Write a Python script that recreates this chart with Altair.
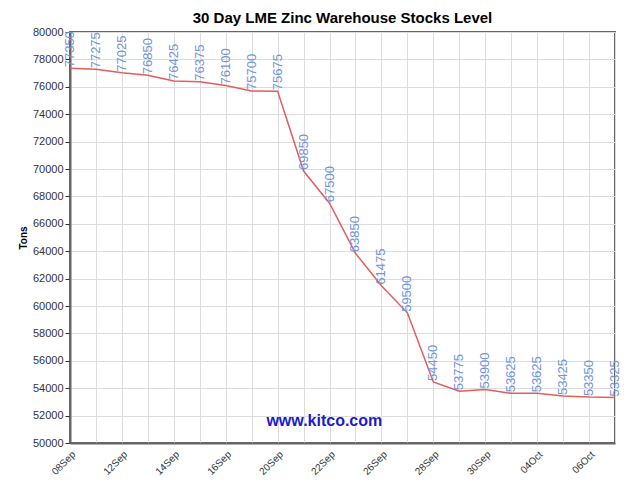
import altair as alt
import pandas as pd

dates = ["08Sep", "09Sep", "12Sep", "13Sep", "14Sep", "15Sep", "16Sep", "19Sep",
         "20Sep", "21Sep", "22Sep", "23Sep", "26Sep", "27Sep", "28Sep", "29Sep",
         "30Sep", "03Oct", "04Oct", "05Oct", "06Oct", "07Oct"]
stocks = [77350, 77275, 77025, 76850, 76425, 76375, 76100, 75700,
          75675, 69850, 67500, 63850, 61475, 59500, 54450, 53775,
          53900, 53625, 53625, 53425, 53350, 53325]
y_ticks = list(range(50000, 80001, 2000))
watermark_text = ["www.kitco.com"]
watermark_pos = [9.8, 51600]

df = pd.DataFrame({"i": list(range(len(dates))), "date": dates, "tons": stocks})
wm = pd.DataFrame({"i": [watermark_pos[0]], "tons": [watermark_pos[1]], "t": watermark_text})

label_arr = "[" + ",".join("'" + d + "'" for d in dates) + "]"
label_expr = f"datum.value % 2 == 0 ? {label_arr}[datum.value] : ''"

xscale = alt.Scale(domain=[0, len(dates) - 1], nice=False, zero=False)
yscale = alt.Scale(domain=[50000, 80000], nice=False, zero=False)

xaxis = alt.Axis(values=list(range(len(dates))), labelExpr=label_expr, title=None,
                 labelAngle=-45, labelFontSize=10, labelColor="#333",
                 labelFont="Liberation Sans", ticks=False, labelPadding=6,
                 grid=True, gridColor="#dcdcdc", domainColor="#666", domainWidth=2,
                 labelOverlap=False, labelBound=False, labelFlush=False)
yaxis = alt.Axis(values=y_ticks, format="d", title="Tons",
                 titleFontSize=10, titleFontWeight="bold", titleColor="#000",
                 titleFont="Liberation Sans", titlePadding=4,
                 labelFontSize=11, labelColor="#333", labelFont="Liberation Sans",
                 tickColor="#333", tickSize=5, labelPadding=2,
                 labelOverlap=False, labelBound=False, labelFlush=False,
                 grid=True, gridColor="#dcdcdc", domainColor="#666", domainWidth=2)

X = alt.X("i:Q", scale=xscale, axis=xaxis)
Y = alt.Y("tons:Q", scale=yscale, axis=yaxis)

base = alt.Chart(df)
line = base.mark_line(color="#e35d5d", strokeWidth=1.5).encode(x=X, y=Y)
labels = base.mark_text(angle=270, align="left", baseline="middle", dx=1,
                        fontSize=13, color="#6f94d8", font="Liberation Sans").encode(
    x=X, y=Y, text=alt.Text("tons:Q", format="d"),
)
watermark = alt.Chart(wm).mark_text(fontSize=16, fontWeight="bold", color="#1a1ad0",
                                    font="Liberation Sans").encode(
    x=X, y=Y, text="t:N",
)

chart = alt.layer(line, labels, watermark).properties(
    width=545, height=411,
    autosize="none",
    padding={"left": 62, "top": 24, "right": 9, "bottom": 35},
    title=alt.TitleParams("30 Day LME Zinc Warehouse Stocks Level",
                          font="Liberation Sans", fontSize=15,
                          fontWeight="bold", color="#000", offset=0),
).configure_view(stroke="#666", strokeWidth=2)

chart.save("out.html", embed_options={"renderer": "svg", "actions": False})
